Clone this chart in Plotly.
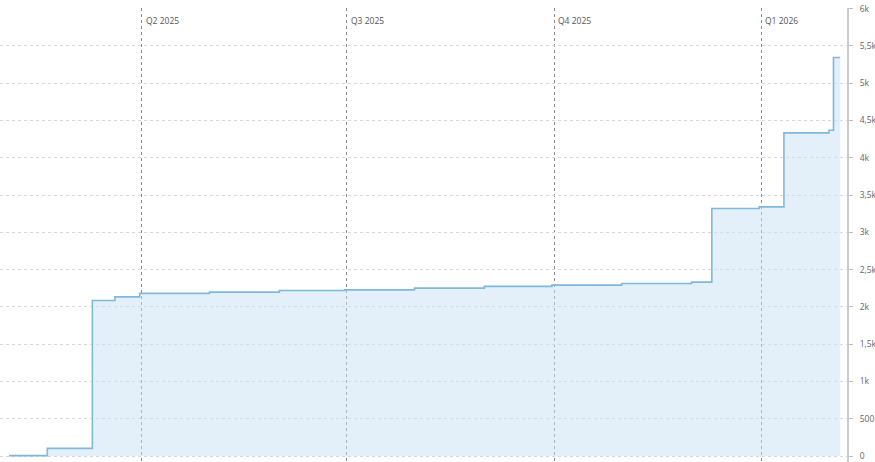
import plotly.graph_objects as go

# Data: cumulative values at change dates
dates = ["2025-02-01", "2025-02-18", "2025-03-10", "2025-03-20", "2025-03-31",
         "2025-05-01", "2025-06-01", "2025-06-30", "2025-07-31", "2025-08-31",
         "2025-09-30", "2025-10-31", "2025-12-01", "2025-12-10", "2025-12-31",
         "2026-01-11", "2026-01-31", "2026-02-02", "2026-02-05"]
values = [5, 103, 2087, 2135, 2181,
          2198, 2221, 2229, 2252, 2275,
          2292, 2315, 2332, 3320, 3342,
          4334, 4370, 5345, 5345]

quarter_dates = ["2025-04-01", "2025-07-01", "2025-10-01", "2026-01-01"]
quarter_labels = ["Q2 2025", "Q3 2025", "Q4 2025", "Q1 2026"]

y_ticks = [0, 500, 1000, 1500, 2000, 2500, 3000, 3500, 4000, 4500, 5000, 5500, 6000]

fig = go.Figure()
fig.add_trace(go.Scatter(
    x=dates, y=values, mode="lines", line_shape="hv",
    line=dict(color="#80b8dc", width=1.6),
    fill="tozeroy", fillcolor="rgba(200,225,245,0.5)",
    hoverinfo="skip", showlegend=False,
))

for qd, ql in zip(quarter_dates, quarter_labels):
    fig.add_annotation(
        x=qd, y=1, xref="x", yref="paper", text=ql, showarrow=False,
        xanchor="left", yanchor="top", xshift=2, yshift=-5,
        font=dict(family="Open Sans, Noto Sans, sans-serif", size=8.5, color="#555"),
    )

fig.update_layout(
    width=875, height=462,
    margin=dict(l=0, r=28, t=8, b=0),
    paper_bgcolor="white", plot_bgcolor="white",
    separators=",.",
    font=dict(family="Open Sans, Noto Sans, sans-serif", size=10, color="#666"),
    xaxis=dict(
        type="date", range=["2025-01-28", "2026-02-08"],
        tickvals=quarter_dates, showticklabels=False, ticks="",
        showgrid=True, gridcolor="#8a8a8a", griddash="dot", gridwidth=1,
        showline=False, zeroline=False, automargin=False,
    ),
    yaxis=dict(
        side="right", range=[-80, 6009], tickvals=y_ticks, tickformat="~s",
        showgrid=True, gridcolor="#d8d8d8", griddash="dot", gridwidth=1,
        showline=True, linecolor="#cccccc", linewidth=2,
        ticks="outside", ticklen=4, tickcolor="#bbbbbb",
        ticklabelstandoff=5, ticklabeloverflow="allow", automargin=False,
        zeroline=False, tickfont=dict(size=8.5, color="#666"),
    ),
)

fig.write_html(
    "out.html",
    config={"displayModeBar": False},
    post_script="document.body.style.margin='0';document.body.style.overflow='hidden';",
)
